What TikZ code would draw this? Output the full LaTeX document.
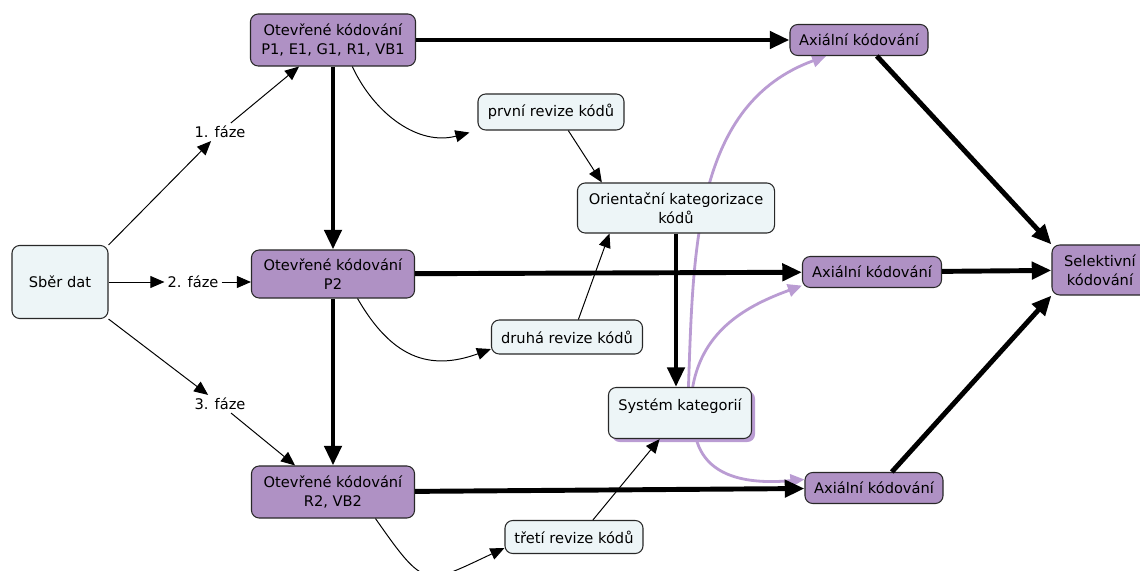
\documentclass[tikz,border=0pt]{standalone}
\usepackage{fontspec}
\setmainfont{DejaVu Sans}
\usetikzlibrary{arrows.meta,shadows,backgrounds}

\definecolor{codefill}{RGB}{175,145,196}
\definecolor{notefill}{RGB}{237,245,247}
\definecolor{catline}{RGB}{186,156,211}
\definecolor{edgegray}{RGB}{40,40,40}

\begin{document}
\begin{tikzpicture}[
  x=0.025cm, y=-0.025cm,
  font=\fontsize{10.4}{13.2}\selectfont,
  box/.style={draw=edgegray, rounded corners=5.5pt, align=center,
              line width=0.75pt, inner sep=2pt},
  code/.style={box, fill=codefill},
  note/.style={box, fill=notefill},
  phase/.style={inner sep=2pt},
  flow/.style={-{Triangle[length=14pt,width=12pt]}, line width=3.5pt},
  link/.style={-{Triangle[length=10pt,width=8.5pt]}, line width=0.7pt},
  catflow/.style={-{Triangle[length=10pt,width=9pt]}, line width=2pt, catline},
]
  \useasboundingbox (0,0) rectangle (1140,571);

  % data collection and the three phases
  \node[note, minimum width=2.4cm, minimum height=1.825cm] (sber) at (60,282) {Sběr dat};
  \node[phase] (faze1) at (220,132) {1. fáze};
  \node[phase] (faze2) at (193,282) {2. fáze};
  \node[phase] (faze3) at (220,404) {3. fáze};

  % open coding
  \node[code, minimum width=4.125cm, minimum height=1.3cm] (open1) at (333,40)
    {Otevřené kódování\\P1, E1, G1, R1, VB1};
  \node[code, minimum width=4.075cm, minimum height=1.2cm] (open2) at (333,274)
    {Otevřené kódování\\P2};
  \node[code, minimum width=4.075cm, minimum height=1.3cm] (open3) at (333,492)
    {Otevřené kódování\\R2, VB2};

  % code revisions and categories
  \node[note, minimum width=3.65cm, minimum height=0.9cm] (rev1) at (551,112) {první revize kódů};
  \node[note, minimum width=4.925cm, minimum height=1.25cm] (orient) at (676,208)
    {Orientační kategorizace\\kódů};
  \node[note, minimum width=3.775cm, minimum height=0.85cm] (rev2) at (567,337) {druhá revize kódů};
  \node[note, minimum width=3.575cm, minimum height=1.275cm, text height=8pt, text depth=12pt,
        drop shadow={shadow xshift=2.5pt, shadow yshift=-2.5pt, fill=catline, opacity=1}]
    (system) at (680,413) {Systém kategorií};
  \node[note, minimum width=3.45cm, minimum height=0.825cm] (rev3) at (574,537) {třetí revize kódů};

  % axial and selective coding
  \node[code, minimum width=3.45cm, minimum height=0.775cm] (ax1) at (859,40) {Axiální kódování};
  \node[code, minimum width=3.475cm, minimum height=0.775cm] (ax2) at (872,272) {Axiální kódování};
  \node[code, minimum width=3.45cm, minimum height=0.775cm] (ax3) at (874,488) {Axiální kódování};
  \node[code, minimum width=2.4cm, minimum height=1.25cm] (sel) at (1100,270) {Selektivní\\kódování};

  % phases
  \draw[link] (sber.north east) -- (faze1);
  \draw[link] (faze1) -- (open1.218);
  \draw[link] (sber) -- (faze2);
  \draw[link] (faze2) -- (faze2 -| open2.west);
  \draw[link] (sber.south east) -- (faze3);
  \draw[link] (faze3) -- (open3.145);

  % main flow
  \draw[flow] (open1) -- (open2);
  \draw[flow] (open2) -- (open3);
  \draw[flow] (open1) -- (ax1);
  \draw[flow] (open2) -- (ax2);
  \draw[flow] (open3) -- (ax3);
  \draw[flow] (orient) -- (orient |- system.north);
  \draw[flow] (ax1.-42) -- (sel.north west);
  \draw[flow] (ax2) -- (sel);
  \draw[flow] (ax3.42) -- (sel.south west);

  % revisions
  \draw[link] (open1.-54) to[out=-65, in=195] ([shift={(-8,2)}]rev1.south west);
  \draw[link] (open2.-45) to[out=-60, in=200, looseness=1.2] (rev2.189);
  \draw[link] (open3.-32) to[out=-55, in=205, looseness=1.7] (rev3.189);
  \draw[link] (rev1.-47) -- (orient.161);
  \draw[link] (rev2.57) -- (orient.201);
  \draw[link] (rev3.42) -- (system.232);

  % categories feed axial coding
  \begin{scope}[on background layer]
    \draw[catflow] (system.72) to[out=88, in=200] (ax1.206);
    \draw[catflow] (system.64) to[out=80, in=200] (ax2.191);
    \draw[catflow] (system.-58) to[out=-75, in=185] (ax3.173);
  \end{scope}
\end{tikzpicture}
\end{document}
